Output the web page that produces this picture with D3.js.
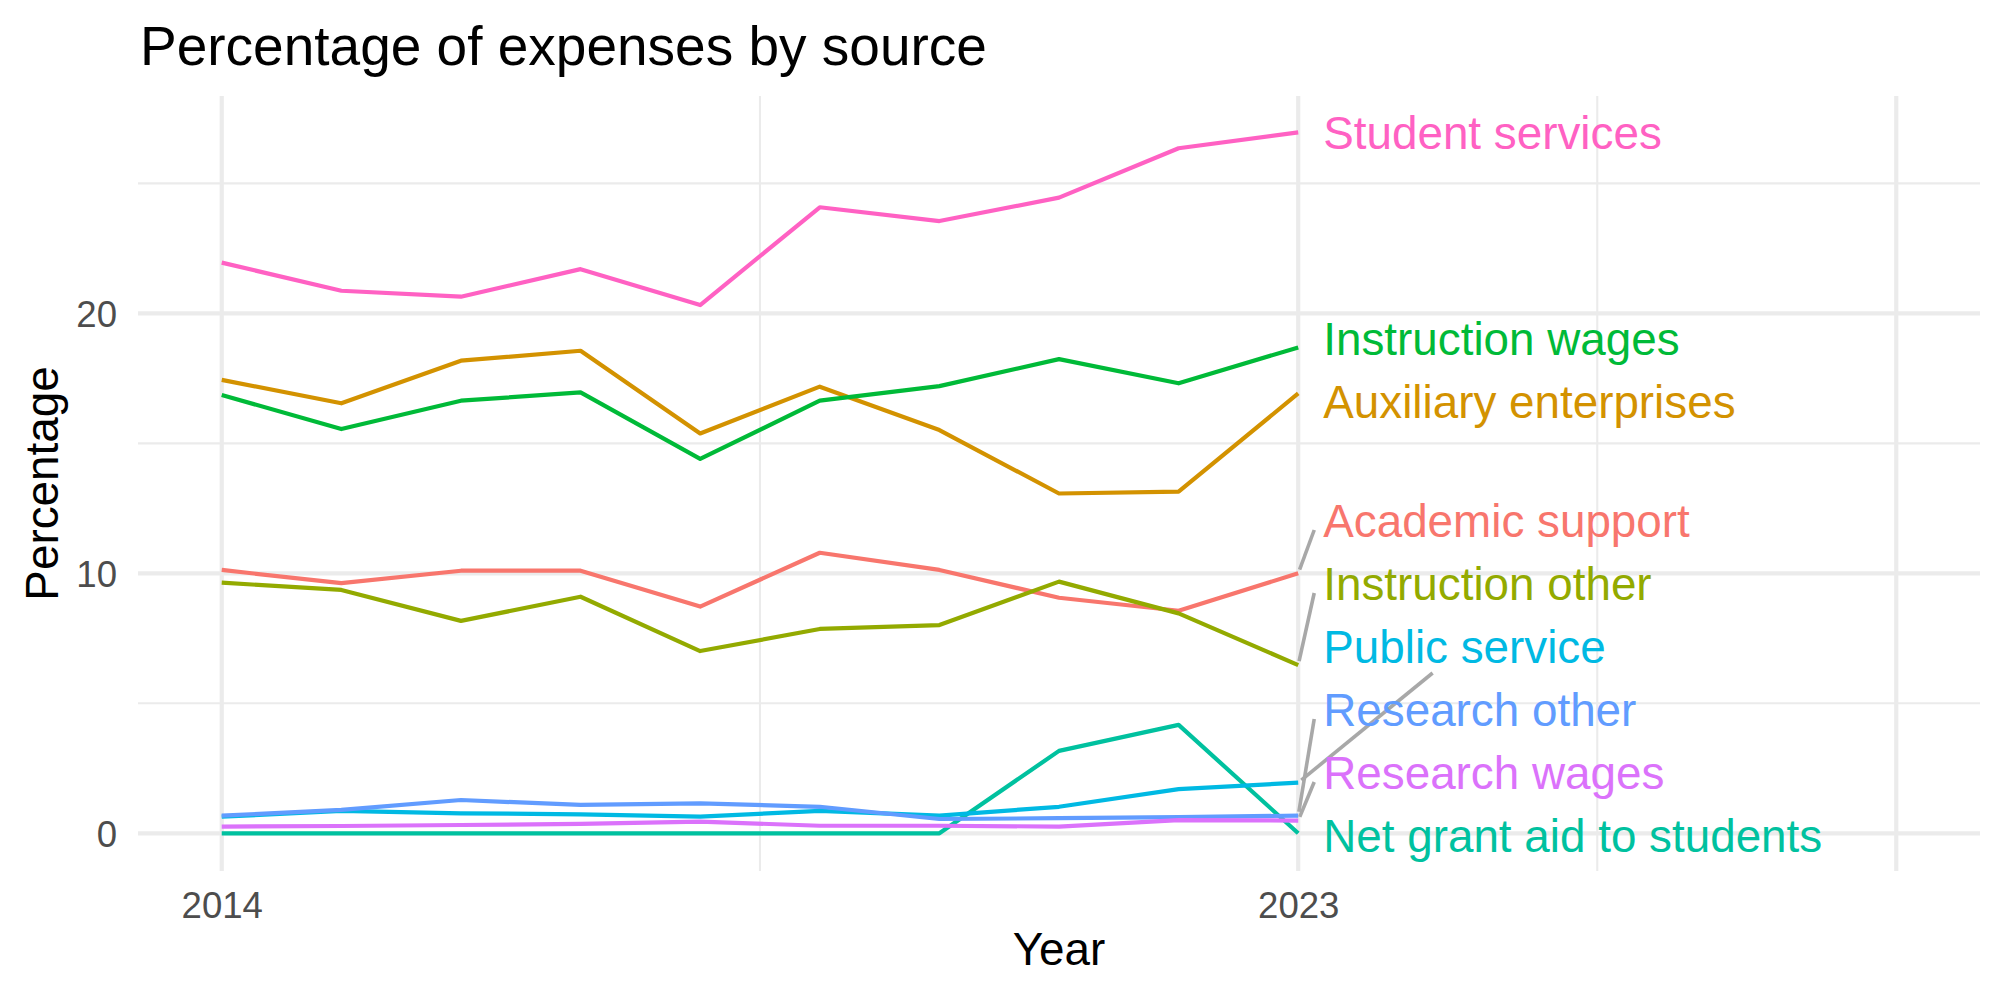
<!DOCTYPE html>
<html>
<head>
<meta charset="utf-8">
<script src="https://cdn.jsdelivr.net/npm/d3@7/dist/d3.min.js"></script>
<style>
  body { margin: 0; background: #fff; }
  text { font-family: "Liberation Sans", Arial, Helvetica, sans-serif; }
</style>
</head>
<body>
<div id="chart"></div>
<script>
// values (percent of expenses)
const years = [2014, 2015, 2016, 2017, 2018, 2019, 2020, 2021, 2022, 2023];
const categories = [
  "Academic support", "Auxiliary enterprises", "Instruction other", "Instruction wages",
  "Net grant aid to students", "Public service", "Research other", "Research wages", "Student services"
];
const academicSupport      = [10.13, 9.62, 10.10, 10.10, 8.72, 10.79, 10.13, 9.06, 8.56, 10.00];
const auxiliaryEnterprises = [17.44, 16.54, 18.18, 18.56, 15.38, 17.18, 15.51, 13.07, 13.14, 16.92];
const instructionOther     = [9.64, 9.36, 8.17, 9.10, 7.01, 7.86, 8.01, 9.68, 8.46, 6.47];
const instructionWages     = [16.86, 15.55, 16.64, 16.96, 14.40, 16.64, 17.20, 18.24, 17.31, 18.69];
const netGrantAid          = [0, 0, 0, 0, 0, 0, 0, 3.17, 4.17, 0];
const publicService        = [0.64, 0.86, 0.77, 0.73, 0.64, 0.86, 0.68, 1.02, 1.70, 1.95];
const researchOther        = [0.68, 0.90, 1.28, 1.09, 1.15, 1.02, 0.55, 0.58, 0.62, 0.68];
const researchWages        = [0.26, 0.28, 0.32, 0.36, 0.45, 0.29, 0.29, 0.26, 0.51, 0.49];
const studentServices      = [21.95, 20.87, 20.64, 21.70, 20.32, 24.08, 23.55, 24.45, 26.35, 26.96];

const xBreaks = [2014, 2023, 2028];
const xBreakLabels = ["2014", "2023", ""];
const xMinorBreaks = [2018.5, 2025.5];
const yBreaks = [0, 10, 20];
const yMinorBreaks = [5, 15, 25];

const seriesValues = [
  academicSupport, auxiliaryEnterprises, instructionOther, instructionWages,
  netGrantAid, publicService, researchOther, researchWages, studentServices
];

(function() {
  const W = 2000, H = 1000;
  const panel = { left: 138, right: 1980, top: 96, bottom: 871 };

  const svg = d3.select("#chart").append("svg")
    .attr("width", W).attr("height", H);

  const x = d3.scaleLinear().domain([2013.3, 2028.7]).range([panel.left, panel.right]);
  const y = d3.scaleLinear().domain([-1.45, 28.36]).range([panel.bottom, panel.top]);

  const color = d3.scaleOrdinal()
    .domain(categories)
    .range(["#F8766D", "#D39200", "#93AA00", "#00BA38", "#00C19F", "#00B9E3", "#619CFF", "#DB72FB", "#FF61C3"]);

  const series = categories.map((name, i) => ({
    name: name,
    values: years.map((yr, j) => ({ year: yr, value: seriesValues[i][j] }))
  }));

  // grid
  const grid = svg.append("g");
  grid.selectAll(".ymin").data(yMinorBreaks).enter().append("line")
    .attr("x1", panel.left).attr("x2", panel.right)
    .attr("y1", d => y(d)).attr("y2", d => y(d))
    .attr("stroke", "#EBEBEB").attr("stroke-width", 2.1);
  grid.selectAll(".xmin").data(xMinorBreaks).enter().append("line")
    .attr("y1", panel.top).attr("y2", panel.bottom)
    .attr("x1", d => x(d)).attr("x2", d => x(d))
    .attr("stroke", "#EBEBEB").attr("stroke-width", 2.1);
  grid.selectAll(".ymaj").data(yBreaks).enter().append("line")
    .attr("x1", panel.left).attr("x2", panel.right)
    .attr("y1", d => y(d)).attr("y2", d => y(d))
    .attr("stroke", "#EBEBEB").attr("stroke-width", 4.2);
  grid.selectAll(".xmaj").data(xBreaks).enter().append("line")
    .attr("y1", panel.top).attr("y2", panel.bottom)
    .attr("x1", d => x(d)).attr("x2", d => x(d))
    .attr("stroke", "#EBEBEB").attr("stroke-width", 4.2);

  // axes (text only, like theme_minimal)
  const xAxis = svg.append("g")
    .attr("transform", `translate(0, ${panel.bottom + 12})`)
    .call(d3.axisBottom(x).tickValues(xBreaks).tickSize(0)
      .tickFormat((d, i) => xBreakLabels[i]));
  xAxis.select(".domain").remove();
  xAxis.selectAll("text")
    .attr("dy", null).attr("y", 35)
    .attr("font-size", 36.6).attr("fill", "#4D4D4D");

  const yAxis = svg.append("g")
    .attr("transform", `translate(${panel.left - 21}, 0)`)
    .call(d3.axisLeft(y).tickValues(yBreaks).tickSize(0));
  yAxis.select(".domain").remove();
  yAxis.selectAll("text")
    .attr("x", 0).attr("dy", "0.36em")
    .attr("font-size", 36.6).attr("fill", "#4D4D4D");

  svg.append("text")
    .attr("x", (panel.left + panel.right) / 2).attr("y", 965)
    .attr("text-anchor", "middle").attr("font-size", 45.8).attr("fill", "#000")
    .text("Year");

  svg.append("text")
    .attr("transform", `translate(58, ${(panel.top + panel.bottom) / 2}) rotate(-90)`)
    .attr("text-anchor", "middle").attr("font-size", 45.8).attr("fill", "#000")
    .text("Percentage");

  svg.append("text")
    .attr("x", 140).attr("y", 65)
    .attr("font-size", 55).attr("fill", "#000")
    .text("Percentage of expenses by source");

  // lines
  const line = d3.line().x(d => x(d.year)).y(d => y(d.value));
  svg.append("g").selectAll("path").data(series).enter().append("path")
    .attr("d", d => line(d.values))
    .attr("fill", "none")
    .attr("stroke", d => color(d.name))
    .attr("stroke-width", 4.2)
    .attr("stroke-linejoin", "round");

  // end labels, pushed apart vertically (repel-like)
  const lastYear = years[years.length - 1];
  const labelX = x(lastYear) + 25;
  const gap = 63;
  const minY = panel.top + 36, maxY = panel.bottom - 35;
  const labels = series.map(s => {
    const py = y(s.values[s.values.length - 1].value);
    return { name: s.name, px: x(lastYear), py: py, ly: py };
  }).sort((a, b) => a.py - b.py);

  for (let iter = 0; iter < 600; iter++) {
    for (let i = 0; i < labels.length - 1; i++) {
      const a = labels[i], b = labels[i + 1];
      const d = b.ly - a.ly;
      if (d < gap) {
        const push = (gap - d) / 2;
        a.ly -= push;
        b.ly += push;
      }
    }
    labels.forEach(l => { l.ly = Math.max(minY, Math.min(maxY, l.ly)); });
  }

  const segG = svg.append("g");
  const labelText = svg.append("g").selectAll("text").data(labels).enter().append("text")
    .attr("x", labelX)
    .attr("y", d => d.ly)
    .attr("dy", "0.36em")
    .attr("font-size", 45.8)
    .attr("fill", d => color(d.name))
    .text(d => d.name);

  // connector segments for displaced labels
  const toCenter = ["Public service"];
  labelText.each(function(d) {
    if (Math.abs(d.ly - d.py) < 30) return;
    let ex, ey;
    if (toCenter.includes(d.name)) {
      const cx = labelX + this.getComputedTextLength() / 2;
      ey = d.ly + 26;
      const t = (d.py - ey) / (d.py - d.ly);
      ex = d.px + t * (cx - d.px);
    } else {
      ex = labelX - 9;
      ey = d.ly + 9;
    }
    const len = Math.hypot(ex - d.px, ey - d.py);
    const sx = d.px + (ex - d.px) * 4 / len;
    const sy = d.py + (ey - d.py) * 4 / len;
    segG.append("line")
      .attr("x1", sx).attr("y1", sy).attr("x2", ex).attr("y2", ey)
      .attr("stroke", "#A8A8A8").attr("stroke-width", 3.6);
  });
})();
</script>
</body>
</html>
